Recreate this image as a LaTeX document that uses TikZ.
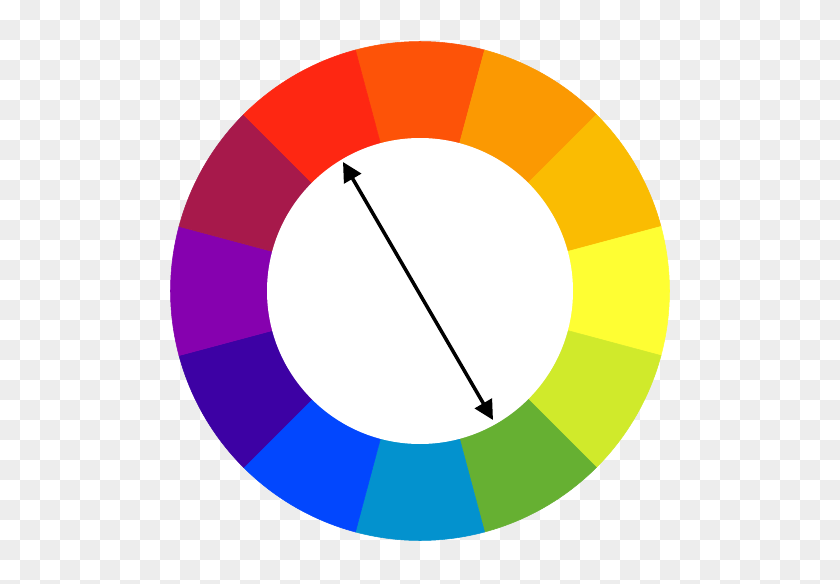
\documentclass[tikz,border=0pt]{standalone}
\usetikzlibrary{arrows.meta}
\definecolor{checkgray}{HTML}{EDEDED}
\definecolor{redorange}{HTML}{FD5308}
\definecolor{orange}{HTML}{FB9902}
\definecolor{yelloworange}{HTML}{FABC02}
\definecolor{yellow}{HTML}{FEFE33}
\definecolor{yellowgreen}{HTML}{D0EA2B}
\definecolor{green}{HTML}{66B032}
\definecolor{bluegreen}{HTML}{0392CE}
\definecolor{blue}{HTML}{0247FE}
\definecolor{blueviolet}{HTML}{3D01A4}
\definecolor{violet}{HTML}{8601AF}
\definecolor{redviolet}{HTML}{A7194B}
\definecolor{red}{HTML}{FE2712}
\tikzset{
  checker/.style={fill=checkgray},
  segment/.style={fill=#1, draw=#1, line width=0.3pt},
  opposite/.style={line width=2pt, {Triangle[length=11pt,width=11pt]}-{Triangle[length=11pt,width=11pt]}}
}
\begin{document}
\begin{tikzpicture}[x=0.02cm, y=0.02cm]
  \clip (0,0) rectangle (840,583);
  \fill[white] (0,0) rectangle (840,583);
  % Checker background
  \foreach \row in {0,...,29}{
    \foreach \col in {0,...,41}{
      \pgfmathtruncatemacro{\odd}{mod(\row+\col,2)}
      \ifnum\odd=1 \fill[checker] (20*\col,583-20*\row) rectangle ++(20,-20); \fi
    }
  }
  \begin{scope}[shift={(420,292)}]
    % Wheel segments
    \fill[segment=redorange] (0,0) -- (75:249.5) arc (75:105:249.5) -- cycle;
    \fill[segment=orange] (0,0) -- (45:249.5) arc (45:75:249.5) -- cycle;
    \fill[segment=yelloworange] (0,0) -- (15:249.5) arc (15:45:249.5) -- cycle;
    \fill[segment=yellow] (0,0) -- (-15:249.5) arc (-15:15:249.5) -- cycle;
    \fill[segment=yellowgreen] (0,0) -- (-45:249.5) arc (-45:-15:249.5) -- cycle;
    \fill[segment=green] (0,0) -- (-75:249.5) arc (-75:-45:249.5) -- cycle;
    \fill[segment=bluegreen] (0,0) -- (-105:249.5) arc (-105:-75:249.5) -- cycle;
    \fill[segment=blue] (0,0) -- (-135:249.5) arc (-135:-105:249.5) -- cycle;
    \fill[segment=blueviolet] (0,0) -- (-165:249.5) arc (-165:-135:249.5) -- cycle;
    \fill[segment=violet] (0,0) -- (165:249.5) arc (165:195:249.5) -- cycle;
    \fill[segment=redviolet] (0,0) -- (135:249.5) arc (135:165:249.5) -- cycle;
    \fill[segment=red] (0,0) -- (105:249.5) arc (105:135:249.5) -- cycle;
    % Hole
    \fill[white] (0,0) circle (153);
    % Complementary pair
    \coordinate (upper) at (-77,129);
    \coordinate (lower) at (73,-129);
    \draw[opposite] (upper) -- (lower);
  \end{scope}
\end{tikzpicture}
\end{document}
